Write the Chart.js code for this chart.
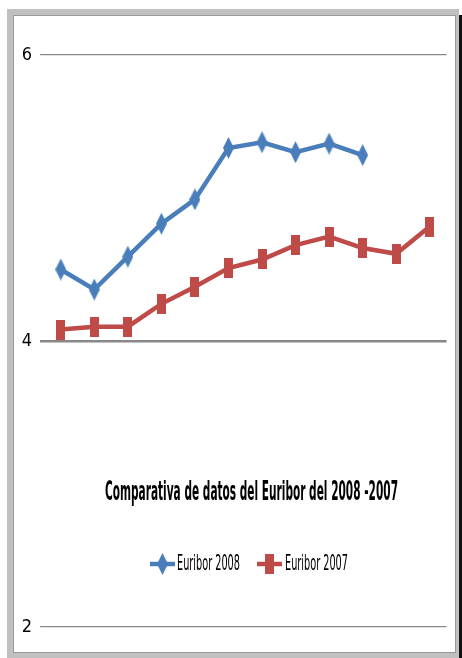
<!DOCTYPE html>
<html>
<head>
<meta charset="utf-8">
<script src="https://cdn.jsdelivr.net/npm/chart.js@4"></script>
<style>
  html, body { margin: 0; padding: 0; background: #ffffff; }
  body { width: 462px; height: 658px; position: relative; overflow: hidden; }
  #frame { position: absolute; left: 7px; top: 9px; width: 452px; height: 649px; background: #c0c0c0; }
  #shadow { position: absolute; left: 459px; top: 15px; width: 3px; height: 643px; background: #111; }
  #inner { position: absolute; left: 13px; top: 15px; width: 441px; height: 636px; background: #fff; border: 1px solid #999; }
  #wrap { position: absolute; left: 14px; top: 16px; width: 441px; height: 636px; }
</style>
</head>
<body>
<div id="frame"></div>
<div id="shadow"></div>
<div id="inner"></div>
<div id="wrap"><canvas id="c" width="441" height="636"></canvas></div>
<script>
const categories = ['Ene', 'Feb', 'Mar', 'Abr', 'May', 'Jun', 'Jul', 'Ago', 'Sep', 'Oct', 'Nov', 'Dic'];
const euribor2008 = [4.50, 4.36, 4.59, 4.82, 4.99, 5.35, 5.39, 5.32, 5.38, 5.30, null, null];
const euribor2007 = [4.08, 4.10, 4.10, 4.26, 4.38, 4.51, 4.57, 4.67, 4.73, 4.65, 4.61, 4.80];
const yTicks = [2, 4, 6];
const chartTitle = 'Comparativa de datos del Euribor del 2008 -2007';
const seriesNames = ['Euribor 2008', 'Euribor 2007'];

const BLUE = '#4a7ebb';
const RED = '#be4b48';

function diamondMarker(color, w, h) {
  const c = document.createElement('canvas');
  c.width = w; c.height = h;
  const x = c.getContext('2d');
  x.fillStyle = color;
  x.beginPath();
  x.moveTo(w / 2, 0);
  x.lineTo(w, h / 2);
  x.lineTo(w / 2, h);
  x.lineTo(0, h / 2);
  x.closePath();
  x.fill();
  return c;
}
function rectMarker(color, w, h) {
  const c = document.createElement('canvas');
  c.width = w; c.height = h;
  const x = c.getContext('2d');
  x.fillStyle = color;
  x.fillRect(0, 0, w, h);
  return c;
}
const blueMarker = diamondMarker(BLUE, 11, 22);
const redMarker = rectMarker(RED, 9, 20);

function drawScaled(ctx, text, font, cx, cy, targetW, color) {
  ctx.save();
  ctx.font = font;
  const w = ctx.measureText(text).width;
  ctx.translate(cx, cy);
  ctx.scale(targetW / w, 1);
  ctx.fillStyle = color;
  ctx.textAlign = 'center';
  ctx.textBaseline = 'middle';
  ctx.fillText(text, 0, 0);
  ctx.restore();
}

const overlayPlugin = {
  id: 'overlay',
  afterDraw(chart) {
    const ctx = chart.ctx;
    const fam = "'Liberation Sans Narrow', 'DejaVu Sans Condensed', 'Liberation Sans', sans-serif";
    drawScaled(ctx, chartTitle, 'bold 27px ' + fam, 237.5, 477, 293, '#000');
    const items = [
      { name: seriesNames[0], color: BLUE, marker: blueMarker, x0: 136, x1: 161, tx: 194.5 },
      { name: seriesNames[1], color: RED, marker: redMarker, x0: 243, x1: 268, tx: 302.5 }
    ];
    const ly = 548;
    items.forEach(it => {
      ctx.save();
      ctx.strokeStyle = it.color;
      ctx.lineWidth = 4.5;
      ctx.beginPath();
      ctx.moveTo(it.x0, ly);
      ctx.lineTo(it.x1, ly);
      ctx.stroke();
      const mx = (it.x0 + it.x1) / 2;
      ctx.drawImage(it.marker, Math.round(mx - it.marker.width / 2), Math.round(ly - it.marker.height / 2));
      ctx.restore();
      drawScaled(ctx, it.name, '22px ' + fam, it.tx, ly, 63, '#000');
    });
  }
};

new Chart(document.getElementById('c'), {
  type: 'line',
  data: {
    labels: categories,
    datasets: [
      {
        label: seriesNames[0],
        data: euribor2008,
        borderColor: BLUE,
        backgroundColor: BLUE,
        borderWidth: 4.5,
        pointStyle: blueMarker,
        tension: 0,
        spanGaps: false
      },
      {
        label: seriesNames[1],
        data: euribor2007,
        borderColor: RED,
        backgroundColor: RED,
        borderWidth: 4.5,
        pointStyle: redMarker,
        tension: 0
      }
    ]
  },
  options: {
    responsive: false,
    animation: false,
    devicePixelRatio: 1,
    layout: { padding: { left: 0, right: 5, top: 39, bottom: 25 } },
    plugins: {
      legend: { display: false },
      title: { display: false },
      tooltip: { enabled: false }
    },
    scales: {
      x: {
        type: 'category',
        offset: true,
        display: false
      },
      y: {
        min: 2,
        max: 6,
        afterBuildTicks(scale) { scale.ticks = yTicks.map(v => ({ value: v })); },
        afterFit(scale) { scale.width = 30; },
        border: { display: false },
        grid: {
          color: '#888888',
          lineWidth: ctx => (ctx.tick && ctx.tick.value === 4 ? 2.5 : 1.2),
          drawTicks: true,
          tickLength: 4
        },
        ticks: {
          color: '#000',
          padding: 8,
          font: { family: "'Liberation Sans Narrow', 'DejaVu Sans Condensed', sans-serif", size: 18 }
        }
      }
    }
  },
  plugins: [overlayPlugin]
});
</script>
</body>
</html>
